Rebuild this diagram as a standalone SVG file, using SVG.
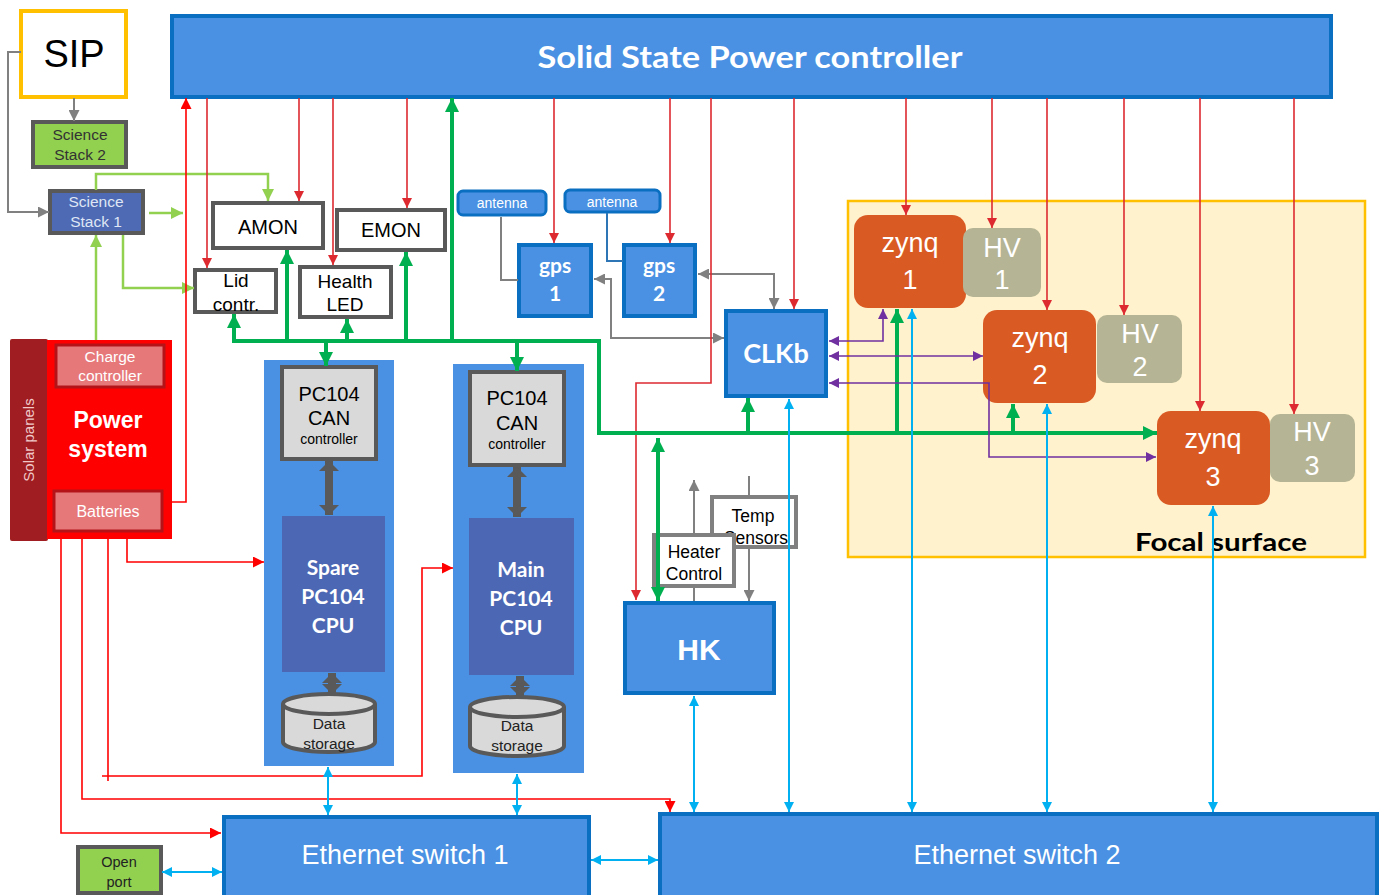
<svg xmlns="http://www.w3.org/2000/svg" width="1382" height="895" viewBox="0 0 1382 895">
<style>
.t{font-family:"Liberation Sans",Arial,sans-serif;text-anchor:middle}
.c{font-family:Lato,"Liberation Sans",sans-serif;font-weight:bold;text-anchor:middle;fill:#fff}
.bx{fill:#fff;stroke:#595959;stroke-width:4}
.blue{fill:#4a91e3;stroke:#0b6fc1;stroke-width:4}
.bus{fill:none;stroke:#00b050;stroke-width:4}
.lg{fill:none;stroke:#92d050;stroke-width:2.5}
.rd{fill:none;stroke:#dc2a30;stroke-width:1.6}
.rb{fill:none;stroke:#ff0000;stroke-width:1.6}
.gr{fill:none;stroke:#808080;stroke-width:2}
.cy{fill:none;stroke:#00b0f0;stroke-width:2}
.pu{fill:none;stroke:#7030a0;stroke-width:1.6}
.dk{fill:none;stroke:#595959;stroke-width:8}
</style>
<defs>
<marker id="mRd" markerUnits="userSpaceOnUse" viewBox="0 0 10 10" refX="10" refY="5" markerWidth="10" markerHeight="10" orient="auto-start-reverse"><path d="M0,0L10,5L0,10z" fill="#dc2a30"/></marker>
<marker id="mRb" markerUnits="userSpaceOnUse" viewBox="0 0 10 10" refX="10" refY="5" markerWidth="11" markerHeight="11" orient="auto-start-reverse"><path d="M0,0L10,5L0,10z" fill="#ff0000"/></marker>
<marker id="mGn" markerUnits="userSpaceOnUse" viewBox="0 0 10 10" refX="10" refY="5" markerWidth="14" markerHeight="14" orient="auto-start-reverse"><path d="M0,0L10,5L0,10z" fill="#00b050"/></marker>
<marker id="mLg" markerUnits="userSpaceOnUse" viewBox="0 0 10 10" refX="10" refY="5" markerWidth="12" markerHeight="12" orient="auto-start-reverse"><path d="M0,0L10,5L0,10z" fill="#92d050"/></marker>
<marker id="mGr" markerUnits="userSpaceOnUse" viewBox="0 0 10 10" refX="10" refY="5" markerWidth="11" markerHeight="11" orient="auto-start-reverse"><path d="M0,0L10,5L0,10z" fill="#808080"/></marker>
<marker id="mCy" markerUnits="userSpaceOnUse" viewBox="0 0 10 10" refX="10" refY="5" markerWidth="10" markerHeight="10" orient="auto-start-reverse"><path d="M0,0L10,5L0,10z" fill="#00b0f0"/></marker>
<marker id="mPu" markerUnits="userSpaceOnUse" viewBox="0 0 10 10" refX="10" refY="5" markerWidth="10" markerHeight="10" orient="auto-start-reverse"><path d="M0,0L10,5L0,10z" fill="#7030a0"/></marker>
<marker id="mDk" markerUnits="userSpaceOnUse" viewBox="0 0 10 10" preserveAspectRatio="none" refX="10" refY="5" markerWidth="10" markerHeight="20" orient="auto-start-reverse"><path d="M0,0L10,5L0,10z" fill="#595959"/></marker>
</defs>
<rect width="1382" height="895" fill="#fff"/>

<g id="focal-surface">
<rect x="848" y="201" width="517" height="356" fill="#fff2cc" stroke="#ffc000" stroke-width="2.5"/>
<text class="c" x="1221" y="551" font-size="25" style="fill:#000" textLength="172" lengthAdjust="spacingAndGlyphs">Focal surface</text>
</g>

<g id="sspc">
<rect class="blue" x="172" y="16" width="1159" height="81"/>
<text class="c" x="750" y="68" font-size="31" textLength="425" lengthAdjust="spacingAndGlyphs">Solid State Power controller</text>
</g>

<g id="sip">
<rect x="21" y="11" width="105" height="86" fill="#fff" stroke="#ffc000" stroke-width="4"/>
<text class="t" x="74" y="67" font-size="38">SIP</text>
</g>
<g id="science-stack-2">
<rect x="33" y="122" width="93" height="45" fill="#92d050" stroke="#595959" stroke-width="4"/>
<text class="t" x="80" y="140" font-size="15.5" fill="#333">Science</text>
<text class="t" x="80" y="160" font-size="15.5" fill="#333">Stack 2</text>
</g>
<g id="science-stack-1">
<rect x="50" y="191" width="93" height="42" fill="#4e6ab4" stroke="#595959" stroke-width="4"/>
<text class="t" x="96" y="207" font-size="15.5" fill="#dfe6f5">Science</text>
<text class="t" x="96" y="227" font-size="15.5" fill="#dfe6f5">Stack 1</text>
</g>
<g id="amon">
<rect class="bx" x="213" y="203" width="110" height="45"/>
<text class="t" x="268" y="234" font-size="20">AMON</text>
</g>
<g id="emon">
<rect class="bx" x="337" y="210" width="108" height="40"/>
<text class="t" x="391" y="237" font-size="20">EMON</text>
</g>
<g id="lid">
<rect class="bx" x="195" y="270" width="81" height="42"/>
<text class="t" x="236" y="287" font-size="19">Lid</text>
<text class="t" x="236" y="311" font-size="19">contr.</text>
</g>
<g id="health-led">
<rect class="bx" x="300" y="267" width="91" height="50"/>
<text class="t" x="345" y="288" font-size="19">Health</text>
<text class="t" x="345" y="311" font-size="19">LED</text>
</g>

<g id="power-system">
<rect x="10" y="339" width="38" height="202" fill="#a01d22" rx="2"/>
<text class="t" transform="translate(34,440) rotate(-90)" font-size="15" fill="#f0c8c8">Solar panels</text>
<rect x="47" y="340" width="125" height="199" fill="#ff0000"/>
<rect x="56" y="345" width="108" height="42" fill="#e6787a" stroke="#b41418" stroke-width="3"/>
<text class="t" x="110" y="362" font-size="15.5" fill="#fff">Charge</text>
<text class="t" x="110" y="381" font-size="15.5" fill="#fff">controller</text>
<text class="t" x="108" y="428" font-size="23" font-weight="bold" fill="#fff">Power</text>
<text class="t" x="108" y="457" font-size="23" font-weight="bold" fill="#fff">system</text>
<rect x="54" y="491" width="108" height="40" fill="#e6787a" stroke="#b41418" stroke-width="3"/>
<text class="t" x="108" y="517" font-size="16" fill="#fff">Batteries</text>
</g>

<g id="spare-pc104">
<rect x="264" y="360" width="130" height="406" fill="#4a91e3"/>
<rect x="282" y="367" width="94" height="92" fill="#d9d9d9" stroke="#595959" stroke-width="4"/>
<text class="t" x="329" y="401" font-size="20">PC104</text>
<text class="t" x="329" y="425" font-size="20">CAN</text>
<text class="t" x="329" y="444" font-size="14">controller</text>
<rect x="282" y="516" width="103" height="156" fill="#4c67b3"/>
<text class="c" x="333" y="575" font-size="21">Spare</text>
<text class="c" x="333" y="604" font-size="21">PC104</text>
<text class="c" x="333" y="633" font-size="21">CPU</text>
<path d="M283,704 V742 A46,10 0 0 0 375,742 V704 A46,10 0 0 0 283,704 Z" fill="#d9d9d9" stroke="#595959" stroke-width="4"/>
<path d="M283,704 A46,10 0 0 0 375,704" fill="none" stroke="#595959" stroke-width="4"/>
<text class="t" x="329" y="729" font-size="15.5" fill="#222">Data</text>
<text class="t" x="329" y="749" font-size="15.5" fill="#222">storage</text>
</g>

<g id="main-pc104">
<rect x="453" y="364" width="131" height="409" fill="#4a91e3"/>
<rect x="470" y="372" width="94" height="93" fill="#d9d9d9" stroke="#595959" stroke-width="4"/>
<text class="t" x="517" y="405" font-size="20">PC104</text>
<text class="t" x="517" y="430" font-size="20">CAN</text>
<text class="t" x="517" y="449" font-size="14">controller</text>
<rect x="469" y="518" width="105" height="157" fill="#4c67b3"/>
<text class="c" x="521" y="577" font-size="21">Main</text>
<text class="c" x="521" y="606" font-size="21">PC104</text>
<text class="c" x="521" y="635" font-size="21">CPU</text>
<path d="M470,707 V746 A47,10 0 0 0 564,746 V707 A47,10 0 0 0 470,707 Z" fill="#d9d9d9" stroke="#595959" stroke-width="4"/>
<path d="M470,707 A47,10 0 0 0 564,707" fill="none" stroke="#595959" stroke-width="4"/>
<text class="t" x="517" y="731" font-size="15.5" fill="#222">Data</text>
<text class="t" x="517" y="751" font-size="15.5" fill="#222">storage</text>
</g>

<g id="antenna-1">
<rect x="458" y="191" width="88" height="24" rx="5" fill="#4a91e3" stroke="#0b6fc1" stroke-width="3"/>
<text class="t" x="502" y="208" font-size="14" fill="#fff">antenna</text>
</g>
<g id="antenna-2">
<rect x="565" y="190" width="95" height="22" rx="5" fill="#4a91e3" stroke="#0b6fc1" stroke-width="3"/>
<text class="t" x="612" y="207" font-size="14" fill="#fff">antenna</text>
</g>
<g id="gps-1">
<rect class="blue" x="519" y="245" width="72" height="71" stroke-width="5"/>
<text class="c" x="555" y="273" font-size="21">gps</text>
<text class="c" x="555" y="301" font-size="21">1</text>
</g>
<g id="gps-2">
<rect class="blue" x="624" y="245" width="71" height="71" stroke-width="5"/>
<text class="c" x="659" y="273" font-size="21">gps</text>
<text class="c" x="659" y="301" font-size="21">2</text>
</g>
<g id="clkb">
<rect class="blue" x="726" y="311" width="100" height="85" stroke-width="5"/>
<text class="c" x="776" y="363" font-size="27">CLKb</text>
</g>

<g id="zynq-1">
<rect x="854" y="215" width="112" height="93" rx="14" fill="#da5a24"/>
<text class="t" x="910" y="252" font-size="27" fill="#fff">zynq</text>
<text class="t" x="910" y="289" font-size="27" fill="#fff">1</text>
</g>
<g id="hv-1">
<rect x="963" y="228" width="78" height="69" rx="10" fill="#b5b494"/>
<text class="t" x="1002" y="257" font-size="27" fill="#fff">HV</text>
<text class="t" x="1002" y="289" font-size="27" fill="#fff">1</text>
</g>
<g id="zynq-2">
<rect x="983" y="310" width="113" height="93" rx="14" fill="#da5a24"/>
<text class="t" x="1040" y="347" font-size="27" fill="#fff">zynq</text>
<text class="t" x="1040" y="384" font-size="27" fill="#fff">2</text>
</g>
<g id="hv-2">
<rect x="1097" y="315" width="85" height="68" rx="10" fill="#b5b494"/>
<text class="t" x="1140" y="343" font-size="27" fill="#fff">HV</text>
<text class="t" x="1140" y="376" font-size="27" fill="#fff">2</text>
</g>
<g id="zynq-3">
<rect x="1157" y="411" width="113" height="94" rx="14" fill="#da5a24"/>
<text class="t" x="1213" y="448" font-size="27" fill="#fff">zynq</text>
<text class="t" x="1213" y="486" font-size="27" fill="#fff">3</text>
</g>
<g id="hv-3">
<rect x="1270" y="414" width="85" height="68" rx="10" fill="#b5b494"/>
<text class="t" x="1312" y="441" font-size="27" fill="#fff">HV</text>
<text class="t" x="1312" y="475" font-size="27" fill="#fff">3</text>
</g>

<g id="temp-sensors">
<rect x="712" y="497" width="84" height="50" fill="#fff" stroke="#808080" stroke-width="4"/>
<text class="t" x="753" y="522" font-size="17.5">Temp</text>
<text class="t" x="756" y="544" font-size="17.5">Sensors</text>
</g>
<g id="heater-control">
<rect x="654" y="535" width="80" height="51" fill="#fff" stroke="#808080" stroke-width="4"/>
<text class="t" x="694" y="558" font-size="17.5">Heater</text>
<text class="t" x="694" y="580" font-size="17.5">Control</text>
</g>
<g id="hk">
<rect class="blue" x="625" y="603" width="149" height="90" stroke-width="5"/>
<text class="t" x="699" y="660" font-size="30" font-weight="bold" fill="#fff">HK</text>
</g>

<g id="ethernet-switch-1">
<rect class="blue" x="224" y="817" width="365" height="84"/>
<text class="t" x="405" y="864" font-size="27" fill="#fff">Ethernet switch 1</text>
</g>
<g id="ethernet-switch-2">
<rect class="blue" x="660" y="814" width="717" height="87"/>
<text class="t" x="1017" y="864" font-size="27" fill="#fff">Ethernet switch 2</text>
</g>
<g id="open-port">
<rect x="78" y="847" width="83" height="46" fill="#92d050" stroke="#595959" stroke-width="4"/>
<text class="t" x="119" y="867" font-size="14.5" fill="#222">Open</text>
<text class="t" x="119" y="887" font-size="14.5" fill="#222">port</text>
</g>

<g id="connectors">
<path class="gr" d="M21,52 H8 V212 H49" marker-end="url(#mGr)"/>
<path class="gr" d="M74,98 V121" marker-end="url(#mGr)"/>
<path class="gr" d="M501,217 V280 H518"/>
<path d="M607,213 V261 H623" fill="none" stroke="#2e75b6" stroke-width="2"/>
<path class="gr" d="M594,279 H611 V338 H724" marker-start="url(#mGr)" marker-end="url(#mGr)"/>
<path class="gr" d="M698,274 H774 V309" marker-start="url(#mGr)" marker-end="url(#mGr)"/>
<path class="gr" d="M694,587 V601"/>
<path class="gr" d="M694,533 V480" marker-end="url(#mGr)"/>
<path class="gr" d="M749,476 V495"/>
<path class="gr" d="M749,549 V601" marker-end="url(#mGr)"/>
<path class="lg" d="M96,340 V235" marker-end="url(#mLg)"/>
<path class="lg" d="M96,190 V174 H268 V201" marker-end="url(#mLg)"/>
<path class="lg" d="M149,213 H183" marker-end="url(#mLg)"/>
<path class="lg" d="M123,235 V288 H194" marker-end="url(#mLg)"/>
<path class="rd" d="M207,98 V268" marker-end="url(#mRd)"/>
<path class="rd" d="M299,98 V201" marker-end="url(#mRd)"/>
<path class="rd" d="M333,98 V265" marker-end="url(#mRd)"/>
<path class="rd" d="M407,98 V208" marker-end="url(#mRd)"/>
<path class="rd" d="M554,98 V243" marker-end="url(#mRd)"/>
<path class="rd" d="M670,98 V243" marker-end="url(#mRd)"/>
<path class="rd" d="M711,98 V383 H636 V600" marker-end="url(#mRd)"/>
<path class="rd" d="M794,98 V309" marker-end="url(#mRd)"/>
<path class="rd" d="M906,98 V215" marker-end="url(#mRd)"/>
<path class="rd" d="M992,98 V228" marker-end="url(#mRd)"/>
<path class="rd" d="M1047,98 V310" marker-end="url(#mRd)"/>
<path class="rd" d="M1124,98 V315" marker-end="url(#mRd)"/>
<path class="rd" d="M1200,98 V411" marker-end="url(#mRd)"/>
<path class="rd" d="M1294,98 V414" marker-end="url(#mRd)"/>
<path class="rb" d="M172,502 H186 V98" marker-end="url(#mRb)"/>
<path class="rb" d="M61,539 V833 H221" marker-end="url(#mRb)"/>
<path class="rb" d="M82,539 V799 H670 V812" marker-end="url(#mRb)"/>
<path class="rb" d="M108,539 V781"/>
<path class="rb" d="M102,776 H422 V568 H453" marker-end="url(#mRb)"/>
<path class="rb" d="M127,539 V562 H264" marker-end="url(#mRb)"/>
<path class="bus" d="M234,341 H599 V433 H1157" marker-end="url(#mGn)"/>
<path class="bus" d="M234,343 V314" marker-end="url(#mGn)"/>
<path class="bus" d="M287,341 V250" marker-end="url(#mGn)"/>
<path class="bus" d="M347,341 V319" marker-end="url(#mGn)"/>
<path class="bus" d="M406,341 V252" marker-end="url(#mGn)"/>
<path class="bus" d="M452,341 V98" marker-end="url(#mGn)"/>
<path class="bus" d="M326,341 V366" marker-end="url(#mGn)"/>
<path class="bus" d="M517,341 V371" marker-end="url(#mGn)"/>
<path class="bus" d="M748,433 V398" marker-end="url(#mGn)"/>
<path class="bus" d="M897,433 V309" marker-end="url(#mGn)"/>
<path class="bus" d="M1013,433 V404" marker-end="url(#mGn)"/>
<path class="bus" d="M658,438 V601" marker-start="url(#mGn)" marker-end="url(#mGn)"/>
<path class="pu" d="M829,341 H883 V309" marker-start="url(#mPu)" marker-end="url(#mPu)"/>
<path class="pu" d="M829,356 H983" marker-start="url(#mPu)" marker-end="url(#mPu)"/>
<path class="pu" d="M829,383 H989 V457 H1156" marker-start="url(#mPu)" marker-end="url(#mPu)"/>
<path class="dk" d="M329,461 V515" marker-start="url(#mDk)" marker-end="url(#mDk)"/>
<path class="dk" d="M332,673 V694" marker-start="url(#mDk)" marker-end="url(#mDk)"/>
<path class="dk" d="M517,467 V517" marker-start="url(#mDk)" marker-end="url(#mDk)"/>
<path class="dk" d="M520,676 V697" marker-start="url(#mDk)" marker-end="url(#mDk)"/>
<path class="cy" d="M328,767 V815" marker-start="url(#mCy)" marker-end="url(#mCy)"/>
<path class="cy" d="M517,774 V815" marker-start="url(#mCy)" marker-end="url(#mCy)"/>
<path class="cy" d="M162,872 H222" marker-start="url(#mCy)" marker-end="url(#mCy)"/>
<path class="cy" d="M591,860 H658" marker-start="url(#mCy)" marker-end="url(#mCy)"/>
<path class="cy" d="M694,696 V812" marker-start="url(#mCy)" marker-end="url(#mCy)"/>
<path class="cy" d="M789,399 V812" marker-start="url(#mCy)" marker-end="url(#mCy)"/>
<path class="cy" d="M912,309 V812" marker-start="url(#mCy)" marker-end="url(#mCy)"/>
<path class="cy" d="M1047,404 V812" marker-start="url(#mCy)" marker-end="url(#mCy)"/>
<path class="cy" d="M1213,506 V812" marker-start="url(#mCy)" marker-end="url(#mCy)"/>
</g>
</svg>
